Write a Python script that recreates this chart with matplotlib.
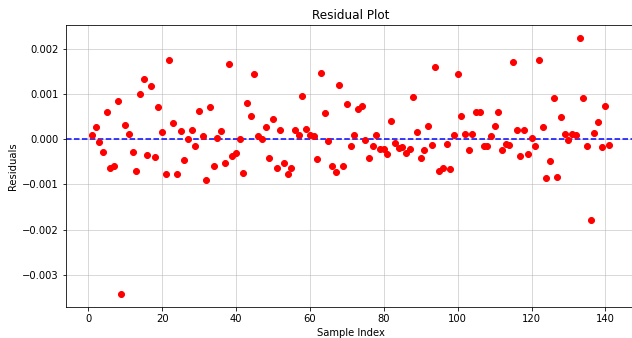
import numpy as np
import matplotlib
matplotlib.use('Agg')
import matplotlib.pyplot as plt

# residuals, in units of 1e-3, sample index 1..141
res_milli = [
    0.10, 0.26, -0.06, -0.29, 0.60, -0.65, -0.60, 0.85, -3.43, 0.31,
    0.11, -0.29, -0.71, 1.00, 1.32, -0.36, 1.18, -0.39, 0.72, 0.15,
    -0.77, 1.75, 0.35, -0.77, 0.17, -0.46, 0.01, 0.20, -0.15, 0.62,
    0.07, -0.91, 0.71, -0.60, 0.02, 0.18, -0.53, 1.65, -0.37, -0.31,
    0.01, -0.74, 0.80, 0.51, 1.44, 0.07, 0.00, 0.27, -0.41, 0.45,
    -0.65, 0.20, -0.52, -0.78, -0.64, 0.20, 0.09, 0.96, 0.23, 0.09,
    0.07, -0.45, 1.47, 0.57, -0.04, -0.59, -0.72, 1.19, -0.60, 0.78,
    -0.16, 0.10, 0.66, 0.74, -0.03, -0.42, -0.15, 0.10, -0.22, -0.22,
    -0.32, 0.39, -0.09, -0.19, -0.18, -0.31, -0.22, 0.94, 0.16, -0.42,
    -0.24, 0.29, -0.12, 1.59, -0.70, -0.63, -0.10, -0.66, 0.09, 1.44,
    0.52, 0.11, -0.25, 0.11, 0.60, 0.60, -0.16, -0.16, 0.07, 0.30,
    0.59, -0.24, -0.11, -0.13, 1.71, 0.21, -0.37, 0.21, -0.32, 0.03,
    -0.15, 1.74, 0.27, -0.85, -0.49, 0.90, -0.83, 0.49, 0.12, -0.01,
    0.11, 0.09, 2.24, 0.91, -0.15, -1.80, 0.13, 0.38, -0.18, 0.73,
    -0.13,
]
residuals = np.array(res_milli) * 1e-3
sample_index = np.arange(1, len(residuals) + 1)

W, H = 632, 338
DPI = 72
fig = plt.figure(figsize=(W / DPI, H / DPI), dpi=DPI)
# axes runs a little past the right edge of the image, like the reference
ax = fig.add_axes([66 / W, (H - 307) / H, (635 - 66) / W, (307 - 25) / H])

ax.scatter(sample_index, residuals, color='red', zorder=3)
ax.axhline(0, color='blue', linestyle='--', linewidth=1.5, zorder=2)

ax.set_title('Residual Plot')
ax.set_xlabel('Sample Index')
ax.set_ylabel('Residuals')
ax.set_xticks(np.arange(0, 141, 20))
ax.grid(True, color='#b0b0b0', alpha=0.6)
ax.set_axisbelow(True)

fig.savefig('out.png', dpi=DPI)
